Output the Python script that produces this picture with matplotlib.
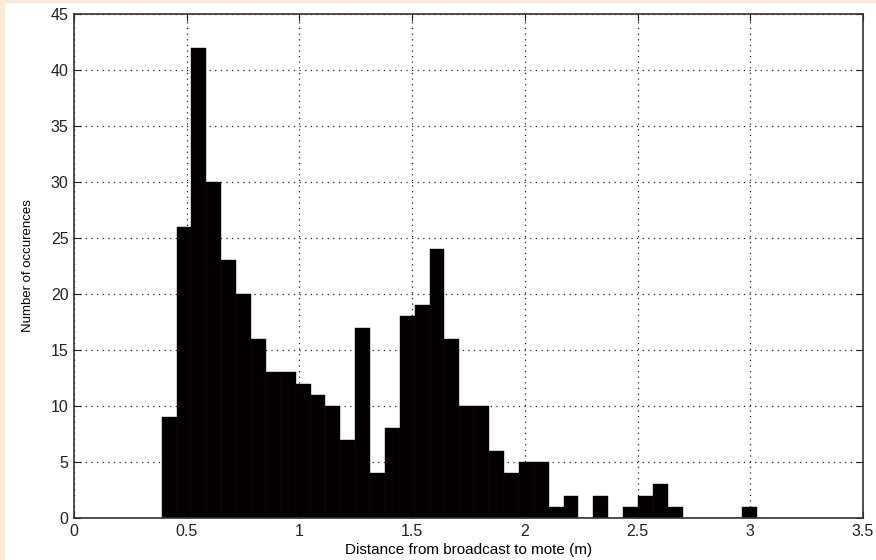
import numpy as np
import matplotlib.pyplot as plt
from matplotlib.patches import Rectangle

plt.rcParams['font.family'] = ['Liberation Sans', 'DejaVu Sans']

# histogram: 40 bins between min and max distance
bin_start = 0.389
bin_end = 3.030
counts = [9, 26, 42, 30, 23, 20, 16, 13, 13, 12,
          11, 10, 7, 17, 4, 8, 18, 19, 24, 16,
          10, 10, 6, 4, 5, 5, 1, 2, 0, 2,
          0, 1, 2, 3, 1, 0, 0, 0, 0, 1]
x_ticks = [0, 0.5, 1, 1.5, 2, 2.5, 3, 3.5]
x_tick_labels = ['0', '0.5', '1', '1.5', '2', '2.5', '3', '3.5']
y_ticks = [0, 5, 10, 15, 20, 25, 30, 35, 40, 45]

edges = np.linspace(bin_start, bin_end, len(counts) + 1)
widths = np.diff(edges)

fig = plt.figure(figsize=(8.76, 5.6), dpi=100)
fig.patch.set_facecolor('#f7ead8')
# white panel inside the peach border
fig.patches.append(Rectangle((5 / 876, 0), 1, 1 - 3 / 560, transform=fig.transFigure,
                             facecolor='white', edgecolor='none', zorder=-10))

ax = fig.add_axes([74 / 876, 1 - 518 / 560, (863 - 74) / 876, (518 - 14) / 560])
ax.set_facecolor('white')

ax.bar(edges[:-1], counts, width=widths, align='edge', color='#050000',
       edgecolor='#101010', linewidth=0.3, zorder=3)

ax.set_xlim(0, 3.5)
ax.set_ylim(0, 45)
ax.set_xticks(x_ticks)
ax.set_xticklabels(x_tick_labels)
ax.set_yticks(y_ticks)

ax.grid(True, color='#222222', linestyle=(0, (1, 3.5)), linewidth=0.9, zorder=1)
ax.set_axisbelow(True)

ax.tick_params(direction='in', length=5, top=True, right=True, labelsize=11.5,
               colors='#222222', pad=4)
for s in ax.spines.values():
    s.set_color('#333333')
    s.set_linewidth(1.2)
    s.set_zorder(5)

ax.set_xlabel('Distance from broadcast to mote (m)', fontsize=11, labelpad=3)
ax.set_ylabel('Number of occurences', fontsize=9.5, labelpad=12)

plt.savefig('out.png', dpi=100, facecolor=fig.get_facecolor())
